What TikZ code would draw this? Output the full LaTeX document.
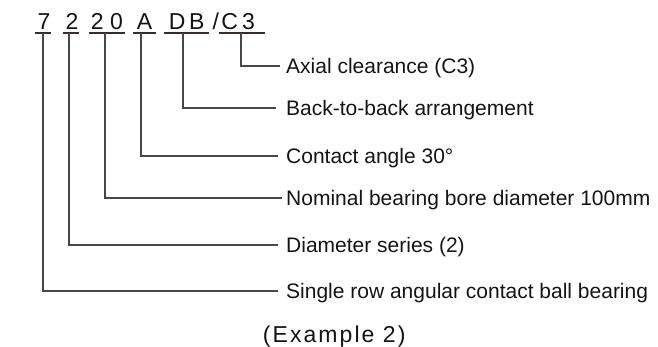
\documentclass[tikz,border=0pt]{standalone}
\usepackage{fontspec}
\setmainfont{Liberation Sans}
\begin{document}
\begin{tikzpicture}[x=1pt,y=-1pt,
  txt/.style={text=black!92},
  code/.style={txt,inner sep=0pt,font=\fontsize{23}{23}\selectfont,text height=16.5pt,text depth=2.6pt,anchor=south},
  lab/.style={txt,inner sep=0pt,font=\fontsize{21}{21}\selectfont,text height=15pt,text depth=0pt,anchor=west},
  ln/.style={draw={rgb,255:red,55;green,45;blue,45},line width=2pt},
  vln/.style={draw={rgb,255:red,75;green,70;blue,70},line width=1.9pt}]
\useasboundingbox (0,0) rectangle (658,346);
% code characters (south = underline)
\node[code,minimum width=16pt] (c7) at (43,32.6) {\hspace{2pt}7};
\node[code,minimum width=16pt] (c2) at (71,32.6) {\hspace{2pt}2};
\node[code,minimum width=36pt] (c20) at (107,32.6) {2\hspace{6.5pt}0};
\node[code,minimum width=23pt] (cA) at (144.5,32.6) {A};
\node[code,minimum width=44.5pt] (cDB) at (186.2,32.6) {\hspace{1pt}D\hspace{3.5pt}B};
\node[code] (cs) at (215.8,32.6) {/};
\node[code,minimum width=45.5pt] (cC3) at (242.2,32.6) {\makebox[45.5pt][l]{\hspace{2pt}C\hspace{4pt}3}};
% underlines
\foreach \n in {c7,c2,c20,cA,cDB,cC3}
  \draw[ln] (\n.south west) -- (\n.south east);
% labels
\node[lab] (l1) at (286,65.7) {Axial clearance (C3)};
\node[lab] (l2) at (286,108) {Back-to-back arrangement};
\node[lab] (l3) at (286,156) {Contact angle 30°};
\node[lab] (l4) at (286,197.7) {Nominal bearing bore diameter 100mm};
\node[lab] (l5) at (286,244.7) {Diameter series (2)};
\node[lab] (l6) at (286,291) {Single row angular contact ball bearing};
% connectors
\draw[vln] ([xshift=-1.5pt]cC3.south) |- ([xshift=-6pt]l1.west);
\draw[vln] ([xshift=-2.9pt]cDB.south) |- ([xshift=-10pt]l2.west);
\draw[vln] ([xshift=-3.2pt]cA.south) |- ([xshift=-8pt]l3.west);
\draw[vln] ([xshift=-2pt]c20.south) |- ([xshift=-4pt]l4.west);
\draw[vln] ([xshift=-2pt]c2.south) |- ([xshift=-8pt]l5.west);
\draw[vln] ([xshift=-0.3pt]c7.south) |- ([xshift=-8pt]l6.west);
% caption
\node[txt,inner sep=0pt,anchor=base,font=\fontsize{23}{23}\selectfont\addfontfeature{LetterSpace=9}] (cap) at (334.2,342) {(Example 2)};
\end{tikzpicture}
\end{document}
